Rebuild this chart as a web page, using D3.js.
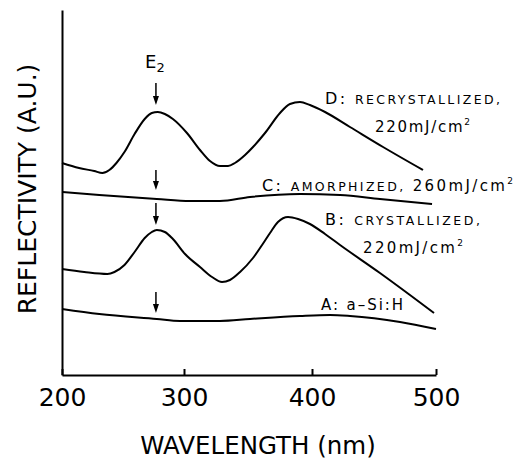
<!DOCTYPE html>
<html><head><meta charset="utf-8">
<script src="https://cdn.jsdelivr.net/npm/d3@7"></script>
<style>body{margin:0;background:#fff}svg{display:block}</style>
</head><body><svg id="c" width="515" height="461"></svg>
<script>
// ---- data (wavelength nm, reflectivity a.u.) ----
const xTicks = [200, 300, 400, 500];
const seriesD = [[200,21.2],[214,20.7],[226.4,20.4],[233.1,20.2],[238.8,20.5],[244.6,21.2],[251.2,22.3],[259.5,24.1],[267.8,25.6],[273.6,26.2],[278.5,26.3],[284.3,26.1],[290.9,25.6],[302.3,24.2],[312.5,22.5],[320.3,21.4],[328.1,20.9],[334.4,20.9],[339.8,21.2],[347.7,22.0],[353.9,22.8],[363.3,24.2],[375,26.2],[382.8,27.1],[390.6,27.3],[398.4,27.0],[410.5,26.3],[430.6,24.8],[457.3,22.8],[489.5,20.5]];
const seriesC = [[200,18.3],[230.6,18.0],[277.7,17.6],[304.7,17.4],[328.1,17.4],[351.6,17.8],[390.6,18.1],[422.6,18.0],[454.8,17.6],[496.8,17.1]];
const seriesB = [[200,10.6],[218.2,10.3],[237.2,10.1],[243,10.3],[251.2,11.0],[259.5,12.3],[267.8,13.7],[273.6,14.3],[277.7,14.5],[284.3,14.3],[290.9,13.6],[300.8,12.1],[312.5,10.8],[321.9,9.8],[329.7,9.3],[335.9,9.5],[343.8,10.3],[353.9,11.7],[361,13.0],[367.2,14.2],[373.4,15.3],[381.3,15.8],[389.1,15.6],[398.4,15.1],[410.5,14.1],[422.6,13.0],[454.8,10.2],[479,8.0],[498.4,6.2]];
const seriesA = [[200,6.6],[230.6,6.1],[277.7,5.6],[296.7,5.4],[328.1,5.4],[351.6,5.6],[390.6,5.9],[414.5,6.0],[430.6,5.9],[471,5.3],[500,4.6]];
const arrowWl = 277;
const arrowSpans = [[29.2,27.0],[20.5,18.5],[17.2,15.0],[8.3,6.2]];

const FONT = "'DejaVu Sans', sans-serif";
const svg = d3.select('#c');
const x = d3.scaleLinear().domain([200,300,400,500]).range([62,184,312,436]);
const y = d3.scaleLinear().domain([0,36.5]).range([375,10]);

// axes
const xAxis = svg.append('g').attr('transform','translate(0,375)')
  .call(d3.axisBottom(x).tickValues(xTicks).tickSize(-6).tickSizeOuter(0).tickPadding(13).tickFormat(d3.format('d')));
xAxis.select('.domain').attr('stroke','#000').attr('stroke-width',2);
xAxis.selectAll('.tick line').attr('stroke','#000').attr('stroke-width',2);
xAxis.selectAll('.tick text').attr('font-family',FONT).attr('font-size',25).attr('fill','#000');

const yAxis = svg.append('g').attr('transform','translate(62,0)')
  .call(d3.axisLeft(y).tickValues([]).tickSizeOuter(0));
yAxis.select('.domain').attr('stroke','#000').attr('stroke-width',2);

// curves
const line = d3.line().x(d=>x(d[0])).y(d=>y(d[1])).curve(d3.curveMonotoneX);
[seriesD, seriesC, seriesB, seriesA].forEach(s=>{
  svg.append('path').attr('d',line(s)).attr('fill','none').attr('stroke','#000').attr('stroke-width',2);
});

// arrows
arrowSpans.forEach(([t,b])=>{
  const ax = x(arrowWl), y0 = y(t), y1 = y(b);
  svg.append('line').attr('x1',ax).attr('x2',ax).attr('y1',y0).attr('y2',y1-6)
    .attr('stroke','#000').attr('stroke-width',1.5);
  svg.append('path').attr('d',`M${ax-3},${y1-9}L${ax+3},${y1-9}L${ax},${y1}Z`).attr('fill','#000');
});

// axis titles
svg.append('text').attr('x',258).attr('y',454).attr('text-anchor','middle')
  .attr('font-family',FONT).attr('font-size',24.5).text('WAVELENGTH (nm)');
svg.append('text').attr('transform','translate(36,189) rotate(-90)').attr('text-anchor','middle')
  .attr('font-family',FONT).attr('font-size',25).text('REFLECTIVITY (A.U.)');

// annotations
function label(x0, y0, parts, len){
  const t = svg.append('text').attr('x',x0).attr('y',y0).attr('font-family',FONT).attr('fill','#000');
  parts.forEach(p=>{
    const ts = t.append('tspan').attr('font-size',p[1]).text(p[0]);
    if (p[2]) ts.attr('dy',p[2]);
  });
  if (len) t.attr('textLength',len).attr('lengthAdjust','spacing');
  return t;
}
label(145,68,[['E',18],['2',13,4]]);
label(325,104,[['D: ',16],['RECRYSTALLIZED,',12.5]],175);
label(375,132,[['220mJ/cm',15],['2',9,-7]],95);
label(262,191,[['C: ',16],['AMORPHIZED,',12.5],[' 260mJ/cm',15],['2',9,-7]],251);
label(325,225,[['B: ',16],['CRYSTALLIZED,',12.5]],155);
label(363,253,[['220mJ/cm',15],['2',9,-7]],100);
label(321,310,[['A: a–Si:H',15]],82);
</script></body></html>
